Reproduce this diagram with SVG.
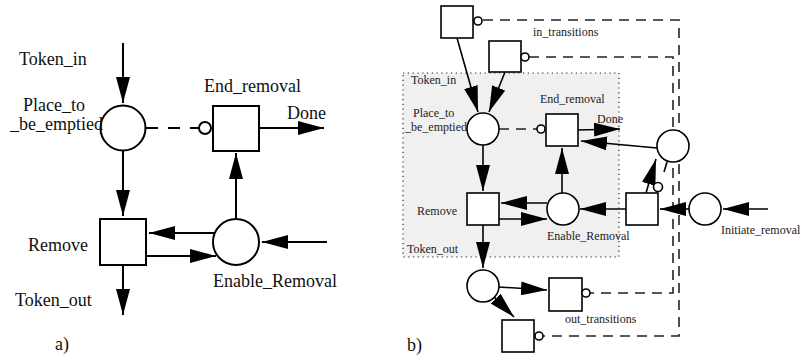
<svg xmlns="http://www.w3.org/2000/svg" width="800" height="356" viewBox="0 0 800 356">
  <style>
    .bg { fill: #ffffff; }
    .node-a { fill: #ffffff; stroke: #000; stroke-width: 2; }
    .node-b { fill: #ffffff; stroke: #000; stroke-width: 1.6; }
    .arc-a { fill: none; stroke: #000; stroke-width: 2; }
    .arc-b { fill: none; stroke: #000; stroke-width: 1.6; }
    .dash-a { fill: none; stroke: #000; stroke-width: 2; stroke-dasharray: 12 10; }
    .dash-b { fill: none; stroke: #222; stroke-width: 1.6; stroke-dasharray: 10 7; }
    .inhib-a { fill: #ffffff; stroke: #000; stroke-width: 2; }
    .inhib-b { fill: #ffffff; stroke: #000; stroke-width: 1.6; }
    .region { fill: #f0f0f0; stroke: #222; stroke-width: 1.2; stroke-dasharray: 1.2 3.6; }
    .ta { font-family: "Liberation Serif", "Times New Roman", serif; font-size: 18px; fill: #111; }
    .tb { font-family: "Liberation Serif", "Times New Roman", serif; font-size: 12px; fill: #222; }
  </style>
  <defs>
    <marker id="head" markerUnits="userSpaceOnUse" markerWidth="26" markerHeight="14" refX="26" refY="7" orient="auto">
      <path d="M0,0 L26,7 L0,14 Z" fill="#000"/>
    </marker>
  </defs>

  <rect class="bg" x="0" y="0" width="800" height="356"/>

  <!-- ===================== a) basic net ===================== -->
  <g id="connectors-a">
    <line class="arc-a" x1="123" y1="43" x2="123" y2="103" marker-end="url(#head)"/>
    <line class="arc-a" x1="123" y1="151" x2="123" y2="216" marker-end="url(#head)"/>
    <line class="arc-a" x1="123" y1="265" x2="123" y2="315" marker-end="url(#head)"/>
    <line class="dash-a" x1="146" y1="128" x2="199" y2="128"/>
    <line class="arc-a" x1="259" y1="128" x2="324" y2="128" marker-end="url(#head)"/>
    <line class="arc-a" x1="236" y1="219" x2="236" y2="153" marker-end="url(#head)"/>
    <line class="arc-a" x1="215" y1="233" x2="149" y2="233" marker-end="url(#head)"/>
    <line class="arc-a" x1="146" y1="256" x2="216" y2="256" marker-end="url(#head)"/>
    <line class="arc-a" x1="327" y1="242" x2="262" y2="242" marker-end="url(#head)"/>
  </g>

  <g id="a-place-to-be-emptied">
    <circle class="node-a" cx="123" cy="128" r="22.5"/>
    <text class="ta" x="23" y="111">Place_to</text>
    <text class="ta" x="10" y="130">_be_emptied</text>
  </g>
  <g id="a-end-removal">
    <circle class="inhib-a" cx="205" cy="128" r="6"/>
    <rect class="node-a" x="213" y="106" width="46" height="45"/>
    <text class="ta" x="204" y="92">End_removal</text>
  </g>
  <g id="a-remove">
    <rect class="node-a" x="100" y="219" width="46" height="46"/>
    <text class="ta" x="28" y="251">Remove</text>
  </g>
  <g id="a-enable-removal">
    <circle class="node-a" cx="236" cy="242" r="23"/>
    <text class="ta" x="213" y="287">Enable_Removal</text>
  </g>
  <g id="a-labels">
    <text class="ta" x="19" y="65">Token_in</text>
    <text class="ta" x="287" y="119">Done</text>
    <text class="ta" x="15" y="306">Token_out</text>
    <text class="ta" x="55" y="350">a)</text>
  </g>

  <!-- ===================== b) net with environment ===================== -->
  <g id="b-region">
    <rect class="region" x="403" y="73" width="216" height="184"/>
    <text class="tb" x="411" y="84">Token_in</text>
    <text class="tb" x="407" y="253">Token_out</text>
  </g>

  <g id="connectors-b">
    <!-- inhibitor loops through the environment -->
    <polyline class="dash-b" points="483,20 679,20 679,336 543,336"/>
    <polyline class="dash-b" points="529,57 673,57 673,293 590,293"/>
    <line class="dash-b" x1="499" y1="129" x2="538" y2="129"/>
    <line class="arc-b" x1="667" y1="162" x2="664" y2="172"/>
    <!-- token flow -->
    <line class="arc-b" x1="457" y1="38" x2="478" y2="112" marker-end="url(#head)"/>
    <line class="arc-b" x1="505" y1="72" x2="489" y2="112" marker-end="url(#head)"/>
    <line class="arc-b" x1="483" y1="145" x2="483" y2="191" marker-end="url(#head)"/>
    <line class="arc-b" x1="578" y1="130" x2="620" y2="129" marker-end="url(#head)"/>
    <line class="arc-b" x1="657" y1="148" x2="581" y2="141" marker-end="url(#head)"/>
    <line class="arc-b" x1="562" y1="193" x2="562" y2="148" marker-end="url(#head)"/>
    <line class="arc-b" x1="547" y1="203" x2="501" y2="203" marker-end="url(#head)"/>
    <line class="arc-b" x1="499" y1="219" x2="547" y2="219" marker-end="url(#head)"/>
    <line class="arc-b" x1="626" y1="209" x2="580" y2="209" marker-end="url(#head)"/>
    <line class="arc-b" x1="689" y1="209" x2="660" y2="209" marker-end="url(#head)"/>
    <line class="arc-b" x1="768" y1="209" x2="723" y2="209" marker-end="url(#head)"/>
    <line class="arc-b" x1="646" y1="193" x2="656" y2="159" marker-end="url(#head)"/>
    <line class="arc-b" x1="483" y1="225" x2="483" y2="268" marker-end="url(#head)"/>
    <line class="arc-b" x1="499" y1="287" x2="547" y2="290" marker-end="url(#head)"/>
    <line class="arc-b" x1="494" y1="297" x2="514" y2="317" marker-end="url(#head)"/>
  </g>

  <g id="b-in-transition-1">
    <rect class="node-b" x="441" y="6" width="32" height="32"/>
    <circle class="inhib-b" cx="478" cy="21" r="4"/>
  </g>
  <g id="b-in-transition-2">
    <rect class="node-b" x="489" y="41" width="32" height="31"/>
    <circle class="inhib-b" cx="525" cy="57" r="4"/>
    <text class="tb" x="533" y="36">in_transitions</text>
  </g>
  <g id="b-place-to-be-emptied">
    <circle class="node-b" cx="483" cy="129" r="16"/>
    <text class="tb" x="413" y="117">Place_to</text>
    <text class="tb" x="405" y="131">_be_emptied</text>
  </g>
  <g id="b-end-removal">
    <circle class="inhib-b" cx="541" cy="129" r="4"/>
    <rect class="node-b" x="546" y="114" width="32" height="32"/>
    <text class="tb" x="540" y="103">End_removal</text>
    <text class="tb" x="597" y="123">Done</text>
  </g>
  <g id="b-remove">
    <rect class="node-b" x="467" y="193" width="32" height="32"/>
    <text class="tb" x="417" y="215">Remove</text>
  </g>
  <g id="b-enable-removal">
    <circle class="node-b" cx="563" cy="209" r="16"/>
    <text class="tb" x="547" y="240">Enable_Removal</text>
  </g>
  <g id="b-done-place">
    <circle class="node-b" cx="673" cy="146" r="16"/>
  </g>
  <g id="b-initiate-transition">
    <rect class="node-b" x="626" y="193" width="32" height="32"/>
    <circle class="inhib-b" cx="658" cy="187" r="4.5"/>
  </g>
  <g id="b-initiate-removal">
    <circle class="node-b" cx="705" cy="209" r="16"/>
    <text class="tb" x="721" y="234">Initiate_removal</text>
  </g>
  <g id="b-token-out-place">
    <circle class="node-b" cx="483" cy="286" r="16"/>
  </g>
  <g id="b-out-transition-1">
    <rect class="node-b" x="549" y="278" width="33" height="33"/>
    <circle class="inhib-b" cx="586" cy="293" r="4"/>
    <text class="tb" x="565" y="323">out_transitions</text>
  </g>
  <g id="b-out-transition-2">
    <rect class="node-b" x="502" y="320" width="32" height="32"/>
    <circle class="inhib-b" cx="539" cy="336" r="4"/>
  </g>
  <text class="ta" x="407" y="351">b)</text>
</svg>
